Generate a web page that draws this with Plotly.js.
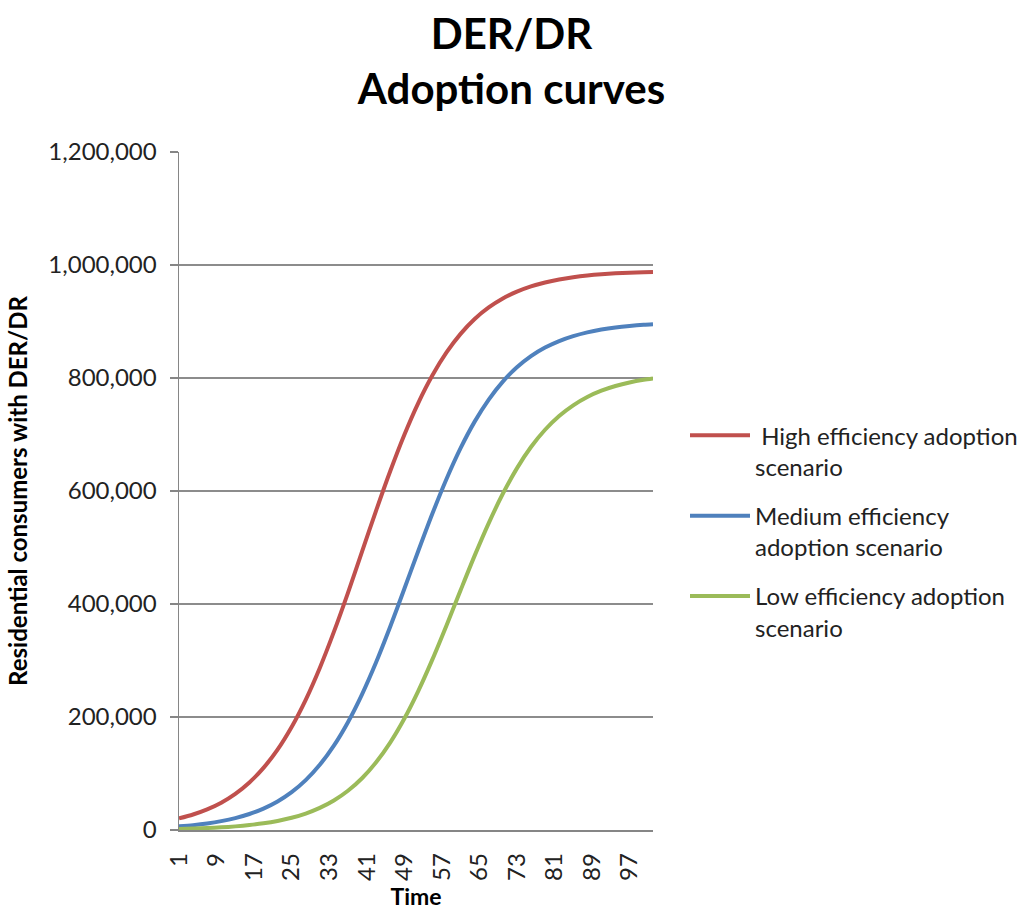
<!DOCTYPE html>
<html>
<head>
<meta charset="utf-8">
<script src="https://cdn.plot.ly/plotly-3.0.1.min.js"></script>
<style>
  html, body { margin: 0; padding: 0; background: #ffffff; }
  #chart { width: 1023px; height: 910px; }
</style>
</head>
<body>
<div id="chart"></div>
<script>
// Time steps at which the adoption curves are sampled
var timeSteps = [1, 4, 7, 10, 13, 16, 19, 22, 25, 28, 31, 34, 37, 40, 43, 46, 49, 52, 55,
                 58, 61, 64, 67, 70, 73, 76, 79, 82, 85, 88, 91, 94, 97, 100, 102];

// Residential consumers with DER/DR, per scenario
var highEfficiency = [20500, 27400, 36500, 48400, 64000, 84200, 110000, 142200, 182300, 230400,
                      286800, 350600, 419800, 492600, 565400, 635000, 699200, 756100, 804800,
                      845300, 878100, 904400, 924800, 940600, 952800, 962100, 969100, 974400,
                      978300, 981300, 983500, 985200, 986400, 987300, 987800];

var mediumEfficiency = [6400, 8600, 11600, 15700, 21100, 28300, 37800, 50400, 66900, 88200,
                        115400, 149300, 190800, 240100, 296800, 359700, 426500, 494200, 560100,
                        621300, 675800, 722800, 761900, 793700, 818900, 838600, 853800, 865400,
                        874100, 880700, 885700, 889400, 892100, 894200, 895200];

var lowEfficiency = [1900, 2600, 3500, 4700, 6400, 8700, 11800, 16000, 21600, 29100,
                     39100, 52200, 69400, 91600, 119800, 154700, 196900, 246300, 302000,
                     362100, 424300, 485600, 543200, 595100, 640100, 677800, 708400, 732800,
                     751700, 766400, 777500, 785800, 792100, 796800, 799200];

var seriesNames = [
  ' High efficiency adoption<br>scenario',
  'Medium efficiency<br>adoption scenario',
  'Low efficiency adoption<br>scenario'
];

var timeTicks = [1, 9, 17, 25, 33, 41, 49, 57, 65, 73, 81, 89, 97];
var valueTicks = [0, 200000, 400000, 600000, 800000, 1000000, 1200000];

var FONT = 'Lato, "Open Sans", sans-serif';
var colors = ['#C0504D', '#4F81BD', '#9BBB59'];
var seriesValues = [highEfficiency, mediumEfficiency, lowEfficiency];

var traces = seriesValues.map(function (vals, i) {
  return {
    x: timeSteps,
    y: vals,
    type: 'scatter',
    mode: 'lines',
    name: seriesNames[i],
    legendgroup: 'scenario' + i,
    line: { color: colors[i], width: 4, shape: 'spline', smoothing: 0.8 },
    hoverinfo: 'x+y+name'
  };
});

var layout = {
  width: 1023,
  height: 910,
  paper_bgcolor: '#ffffff',
  plot_bgcolor: '#ffffff',
  margin: { l: 179, r: 370, t: 152, b: 80, autoexpand: false },
  font: { family: FONT, size: 24, color: '#222222' },
  title: {
    text: '<b>DER/DR<br>Adoption curves</b>',
    font: { family: FONT, size: 42, color: '#000000' },
    x: 0.5, xref: 'container', xanchor: 'center',
    y: 0.946, yref: 'container', yanchor: 'top'
  },
  xaxis: {
    range: [1, 102],
    tickmode: 'array',
    tickvals: timeTicks,
    ticktext: timeTicks.map(String),
    tickangle: -90,
    ticks: '',
    ticklabelstandoff: 12,
    showgrid: false,
    zeroline: false,
    showline: true,
    linecolor: '#868686',
    linewidth: 1.5,
    tickfont: { family: FONT, size: 24, color: '#222222' },
    title: { text: '<b>Time</b>', font: { family: FONT, size: 23, color: '#000000' }, standoff: 12 }
  },
  yaxis: {
    range: [0, 1200000],
    tickmode: 'array',
    tickvals: valueTicks,
    tickformat: ',d',
    ticks: 'outside',
    ticklen: 8,
    tickcolor: '#868686',
    tickwidth: 1.5,
    ticklabelstandoff: 8,
    showgrid: true,
    gridcolor: '#8c8c8c',
    gridwidth: 1.5,
    zeroline: false,
    showline: true,
    linecolor: '#868686',
    linewidth: 1.5,
    tickfont: { family: FONT, size: 24, color: '#222222' },
    title: { text: '<b>Residential consumers with DER/DR</b>', font: { family: FONT, size: 24, color: '#000000' }, standoff: 14 }
  },
  showlegend: true,
  legend: {
    xref: 'container',
    x: 0.6696, xanchor: 'left',
    y: 0.44, yanchor: 'middle',
    font: { family: FONT, size: 24, color: '#222222' },
    bgcolor: 'rgba(0,0,0,0)',
    itemwidth: 60,
    tracegroupgap: 15,
    valign: 'top'
  }
};

Plotly.newPlot('chart', traces, layout, { displayModeBar: false, staticPlot: true });
</script>
</body>
</html>
